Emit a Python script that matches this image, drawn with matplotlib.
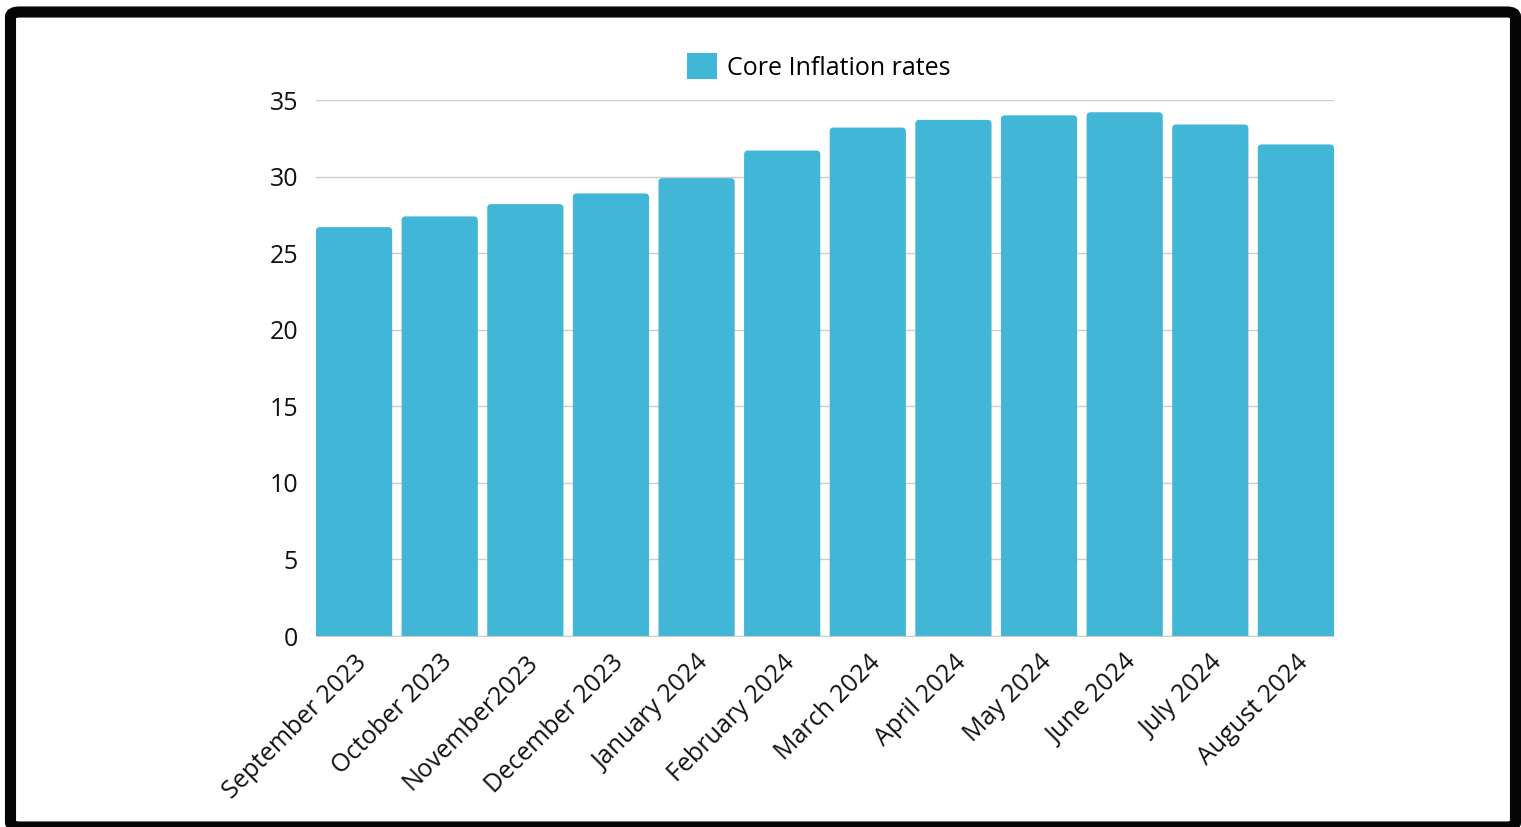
import matplotlib
matplotlib.use("Agg")
import matplotlib.pyplot as plt
from matplotlib.patches import FancyBboxPatch

months = ['September 2023', 'October 2023', 'November2023', 'December 2023',
          'January 2024', 'February 2024', 'March 2024', 'April 2024',
          'May 2024', 'June 2024', 'July 2024', 'August 2024']
core_inflation = [26.7, 27.4, 28.2, 28.9, 29.9, 31.7, 33.2, 33.7, 34.0, 34.2, 33.4, 32.1]
y_ticks = [0, 5, 10, 15, 20, 25, 30, 35]

plt.rcParams['font.family'] = ['Open Sans', 'DejaVu Sans']

fig = plt.figure(figsize=(15.21, 8.27), dpi=100)
ax = fig.add_axes([316 / 1521, 1 - 636 / 827, 1018 / 1521, 536 / 827])

w = 0.89
bars = ax.bar(months, core_inflation, width=w, color='#41b6d6', label='Core Inflation rates', zorder=2)

ax.set_xlim(-w / 2, len(months) - 1 + w / 2)
ax.set_ylim(0, 35)

# swap the square bars for ones with slightly rounded top corners
bbox = ax.get_window_extent()
px_x = bbox.width / (ax.get_xlim()[1] - ax.get_xlim()[0])
px_y = bbox.height / (ax.get_ylim()[1] - ax.get_ylim()[0])
for b in bars:
    b.set_visible(False)
    rb = FancyBboxPatch((b.get_x(), -1), b.get_width(), b.get_height() + 1,
                        boxstyle='round,pad=0,rounding_size=%f' % (4 / px_x),
                        mutation_aspect=px_x / px_y,
                        facecolor='#41b6d6', edgecolor='none', zorder=2)
    ax.add_patch(rb)

ax.set_yticks(y_ticks)
ax.grid(axis='y', color='#cccccc', linewidth=1, zorder=0)
for s in ['top', 'right', 'left']:
    ax.spines[s].set_visible(False)
ax.spines['bottom'].set_color('#cccccc')
ax.tick_params(length=0, labelsize=18, colors='#111111')
ax.tick_params(axis='y', pad=13)
ax.tick_params(axis='x', pad=10)
plt.setp(ax.get_xticklabels(), rotation=45, ha='right', rotation_mode='anchor')

leg = ax.legend(loc='center', bbox_to_anchor=(818.5 / 1521, 1 - 67 / 827),
                bbox_transform=fig.transFigure, frameon=False, fontsize=18,
                handlelength=1.2, handleheight=1.2, handletextpad=0.4)
for h in leg.legend_handles:
    h.set_visible(True)

# black rounded frame around the whole picture
frame = FancyBboxPatch((10.5 / 1521, 0), 1505 / 1521, 815 / 827,
                       boxstyle='round,pad=0,rounding_size=0.006',
                       transform=fig.transFigure, fill=False, edgecolor='#050505',
                       linewidth=8, zorder=10)
fig.patches.append(frame)

fig.savefig('out.png', dpi=100, facecolor='white')
